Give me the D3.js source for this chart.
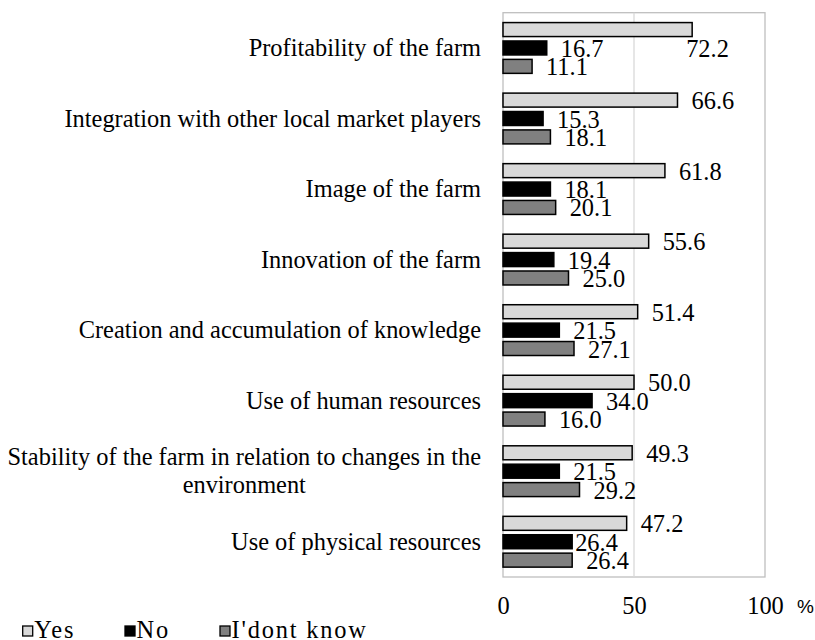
<!DOCTYPE html>
<html>
<head>
<meta charset="utf-8">
<script src="https://cdn.jsdelivr.net/npm/d3@7"></script>
<style>
  body { margin: 0; background: #fff; }
  svg { display: block; }
</style>
</head>
<body>
<div id="chart"></div>
<script>
// Data (top to bottom)
const categories = [
    "Profitability of the farm",
    "Integration with other local market players",
    "Image of the farm",
    "Innovation of the farm",
    "Creation and accumulation of knowledge",
    "Use of human resources",
    "Stability of the farm in relation to changes in the environment",
    "Use of physical resources"
];
const yesValues = [72.2, 66.6, 61.8, 55.6, 51.4, 50.0, 49.3, 47.2];
const noValues = [16.7, 15.3, 18.1, 19.4, 21.5, 34.0, 21.5, 26.4];
const dontKnowValues = [11.1, 18.1, 20.1, 25.0, 27.1, 16.0, 29.2, 26.4];
const seriesNames = ["Yes", "No", "I'dont know"];
const xTicks = [0, 50, 100];

// label lines for the long category (wrapped like the original)
const wrappedLabels = {
    "Stability of the farm in relation to changes in the environment":
        ["Stability of the farm in relation to changes in the", "environment"]
};

// a couple of value labels that were moved by hand in the original
const labelNudge = {
    "0|Yes": [-20, 18],
    "7|No": [-11, 0]
};

const width = 815, height = 640;
const serif = "Liberation Serif";
const fontSize = 24.4;
const colors = { "Yes": "#d9d9d9", "No": "#000000", "I'dont know": "#808080" };

const plot = { left: 503, right: 765, top: 12.7, bottom: 577 };

const svg = d3.select("#chart").append("svg")
    .attr("width", width)
    .attr("height", height);

const x = d3.scaleLinear()
    .domain([0, 100])
    .range([plot.left, plot.right]);

const y = d3.scaleBand()
    .domain(categories)
    .range([plot.top, plot.bottom])
    .paddingInner(0.28)
    .paddingOuter(0.14);

const ySub = d3.scaleBand()
    .domain(seriesNames)
    .range([0, y.bandwidth()])
    .paddingInner(0.24);

// plot area border
svg.append("rect")
    .attr("x", plot.left)
    .attr("y", plot.top)
    .attr("width", plot.right - plot.left)
    .attr("height", plot.bottom - plot.top)
    .attr("fill", "none")
    .attr("stroke", "#bfbfbf")
    .attr("stroke-width", 1.3);

// gridline at 50
svg.append("g")
    .selectAll("line")
    .data(xTicks.filter(t => t > 0 && t < 100))
    .enter()
    .append("line")
    .attr("x1", d => x(d))
    .attr("x2", d => x(d))
    .attr("y1", plot.top)
    .attr("y2", plot.bottom)
    .attr("stroke", "#d9d9d9")
    .attr("stroke-width", 1.3);

// build rows
const rows = categories.map((c, i) => ({
    category: c,
    index: i,
    values: [
        { series: "Yes", value: yesValues[i] },
        { series: "No", value: noValues[i] },
        { series: "I'dont know", value: dontKnowValues[i] }
    ]
}));

const groups = svg.append("g")
    .selectAll("g")
    .data(rows)
    .enter()
    .append("g")
    .attr("transform", d => `translate(0,${y(d.category)})`);

groups.selectAll("rect")
    .data(d => d.values)
    .enter()
    .append("rect")
    .attr("x", x(0))
    .attr("y", d => ySub(d.series))
    .attr("width", d => x(d.value) - x(0))
    .attr("height", ySub.bandwidth())
    .attr("fill", d => colors[d.series])
    .attr("stroke", "#000")
    .attr("stroke-width", 1.5);

// value labels
groups.each(function(row) {
    d3.select(this).selectAll("text")
        .data(row.values)
        .enter()
        .append("text")
        .attr("x", d => {
            const n = labelNudge[row.index + "|" + d.series];
            return x(d.value) + 14 + (n ? n[0] : 0);
        })
        .attr("y", d => {
            const n = labelNudge[row.index + "|" + d.series];
            return ySub(d.series) + ySub.bandwidth() / 2 + 9 + (n ? n[1] : 0);
        })
        .attr("font-family", serif)
        .attr("font-size", fontSize)
        .attr("fill", "#000")
        .text(d => d.value.toFixed(1));
});

// category labels
const catLabels = svg.append("g")
    .selectAll("text")
    .data(categories)
    .enter()
    .append("text")
    .attr("font-family", serif)
    .attr("font-size", fontSize)
    .attr("fill", "#000");

catLabels.each(function(c) {
    const t = d3.select(this);
    const cy = y(c) + y.bandwidth() / 2;
    const lines = wrappedLabels[c];
    if (!lines) {
        t.attr("x", plot.left - 22)
            .attr("y", cy + 8)
            .attr("text-anchor", "end")
            .text(c);
    } else {
        // centre the wrapped lines under the first one, right edge at the same place
        t.attr("text-anchor", "middle");
        const first = t.append("tspan").text(lines[0]);
        const w = first.node().getComputedTextLength();
        const cx = plot.left - 22 - w / 2;
        const lineStep = 28;
        const y0 = cy + 8 - lineStep * (lines.length - 1) / 2;
        first.attr("x", cx).attr("y", y0);
        lines.slice(1).forEach((l, k) => {
            t.append("tspan")
                .attr("x", cx)
                .attr("y", y0 + lineStep * (k + 1))
                .text(l);
        });
    }
});

// x axis (labels only)
const xAxis = svg.append("g")
    .attr("transform", `translate(0,${plot.bottom})`)
    .call(d3.axisBottom(x).tickValues(xTicks).tickSize(0).tickPadding(20));
xAxis.select(".domain").remove();
xAxis.selectAll("text")
    .attr("font-family", serif)
    .attr("font-size", fontSize)
    .attr("fill", "#000");

svg.append("text")
    .attr("x", 797)
    .attr("y", 613)
    .attr("font-family", "Liberation Sans")
    .attr("font-size", 19)
    .text("%");

// legend
const legendX = [22.7, 125, 220];
const legend = svg.append("g")
    .selectAll("g")
    .data(seriesNames)
    .enter()
    .append("g")
    .attr("transform", (d, i) => `translate(${legendX[i]},626)`);

legend.append("rect")
    .attr("width", 10)
    .attr("height", 10)
    .attr("fill", d => colors[d])
    .attr("stroke", "#000")
    .attr("stroke-width", 1.3);

legend.append("text")
    .attr("x", 11.6)
    .attr("y", 12)
    .attr("font-family", serif)
    .attr("font-size", fontSize)
    .attr("letter-spacing", 1.8)
    .text(d => d);
</script>
</body>
</html>
